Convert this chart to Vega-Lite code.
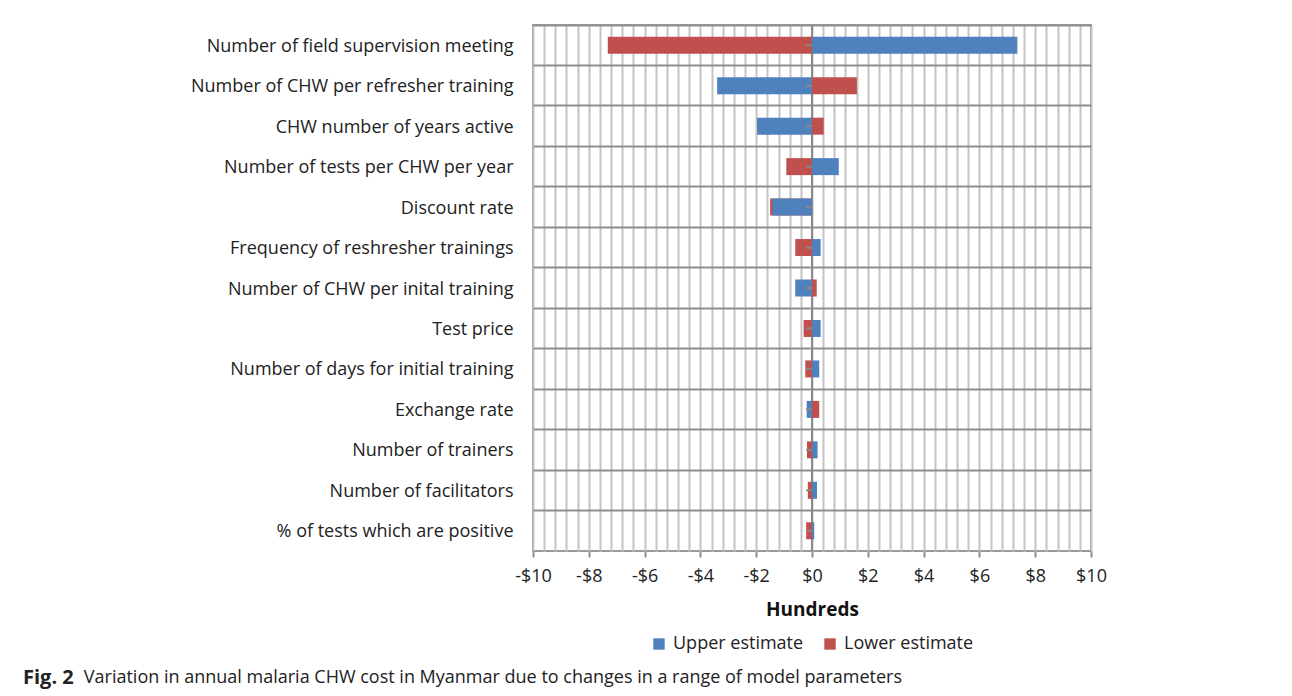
{
  "$schema": "https://vega.github.io/schema/vega-lite/v6.json",
  "autosize": "none",
  "width": 558,
  "height": 526,
  "padding": {"left": 533, "top": 25, "right": 201, "bottom": 145},
  "background": "white",
  "config": {
    "font": "Open Sans",
    "view": {"stroke": "#9a9a9a", "strokeWidth": 2}
  },
  "title": {
    "text": "Fig. 2",
    "subtitle": "\u200b\u00a0\u00a0\u00a0\u00a0\u00a0\u00a0\u00a0\u00a0\u00a0\u00a0\u00a0\u00a0\u00a0Variation in annual malaria CHW cost in Myanmar due to changes in a range of model parameters",
    "orient": "bottom",
    "anchor": "start",
    "frame": "group",
    "dx": -510,
    "offset": 15,
    "font": "Open Sans",
    "fontSize": 20,
    "fontWeight": "bold",
    "color": "#222",
    "subtitleFont": "Open Sans",
    "subtitleFontSize": 18,
    "subtitleColor": "#222",
    "subtitlePadding": -19
  },
  "data": {
    "values": [
      {"param": "Number of field supervision meeting", "series": "Upper estimate", "value": 7.36},
      {"param": "Number of field supervision meeting", "series": "Lower estimate", "value": -7.32},
      {"param": "Number of CHW per refresher training", "series": "Upper estimate", "value": -3.4},
      {"param": "Number of CHW per refresher training", "series": "Lower estimate", "value": 1.61},
      {"param": "CHW number of years active", "series": "Upper estimate", "value": -1.97},
      {"param": "CHW number of years active", "series": "Lower estimate", "value": 0.42},
      {"param": "Number of tests per CHW per year", "series": "Upper estimate", "value": 0.96},
      {"param": "Number of tests per CHW per year", "series": "Lower estimate", "value": -0.92},
      {"param": "Discount rate", "series": "Upper estimate", "value": -1.42},
      {"param": "Discount rate", "series": "Lower estimate", "value": -1.5},
      {"param": "Frequency of reshresher trainings", "series": "Upper estimate", "value": 0.31},
      {"param": "Frequency of reshresher trainings", "series": "Lower estimate", "value": -0.6},
      {"param": "Number of CHW per inital training", "series": "Upper estimate", "value": -0.6},
      {"param": "Number of CHW per inital training", "series": "Lower estimate", "value": 0.17},
      {"param": "Test price", "series": "Upper estimate", "value": 0.31},
      {"param": "Test price", "series": "Lower estimate", "value": -0.3},
      {"param": "Number of days for initial training", "series": "Upper estimate", "value": 0.26},
      {"param": "Number of days for initial training", "series": "Lower estimate", "value": -0.24},
      {"param": "Exchange rate", "series": "Upper estimate", "value": -0.19},
      {"param": "Exchange rate", "series": "Lower estimate", "value": 0.26},
      {"param": "Number of trainers", "series": "Upper estimate", "value": 0.2},
      {"param": "Number of trainers", "series": "Lower estimate", "value": -0.18},
      {"param": "Number of facilitators", "series": "Upper estimate", "value": 0.18},
      {"param": "Number of facilitators", "series": "Lower estimate", "value": -0.15},
      {"param": "% of tests which are positive", "series": "Upper estimate", "value": 0.08},
      {"param": "% of tests which are positive", "series": "Lower estimate", "value": -0.21}
    ]
  },
  "encoding": {
    "y": {
      "field": "param",
      "type": "nominal",
      "sort": [
        "Number of field supervision meeting",
        "Number of CHW per refresher training",
        "CHW number of years active",
        "Number of tests per CHW per year",
        "Discount rate",
        "Frequency of reshresher trainings",
        "Number of CHW per inital training",
        "Test price",
        "Number of days for initial training",
        "Exchange rate",
        "Number of trainers",
        "Number of facilitators",
        "% of tests which are positive"
      ],
      "scale": {"paddingInner": 0, "paddingOuter": 0},
      "axis": {
        "title": null,
        "domain": false,
        "ticks": false,
        "grid": true,
        "bandPosition": 0,
        "gridColor": "#8f8f8f",
        "gridWidth": 2,
        "labelFont": "Open Sans",
        "labelFontSize": 18,
        "labelColor": "#222",
        "labelPadding": 20,
        "labelOffset": 1.5,
        "labelLimit": 500
      }
    }
  },
  "layer": [
    {
      "mark": {"type": "rule", "color": "#8a8a8a", "strokeWidth": 2},
      "encoding": {"x": {"datum": 0}, "y": null}
    },
    {
      "mark": {"type": "bar", "height": {"band": 0.42}},
      "encoding": {
        "x": {
          "field": "value",
          "type": "quantitative",
          "stack": null,
          "scale": {"domain": [-10, 10], "nice": false, "zero": false},
          "axis": {
            "title": "Hundreds",
            "titleFont": "Open Sans",
            "titleFontSize": 19,
            "titleFontWeight": "bold",
            "titleColor": "#111",
            "titlePadding": 15,
            "tickCount": 200,
            "values": [-10, -9.6, -9.2, -8.8, -8.4, -8, -7.6, -7.2, -6.8, -6.4, -6, -5.6, -5.2, -4.8, -4.4, -4, -3.6, -3.2, -2.8, -2.4, -2, -1.6, -1.2, -0.8, -0.4, 0, 0.4, 0.8, 1.2, 1.6, 2, 2.4, 2.8, 3.2, 3.6, 4, 4.4, 4.8, 5.2, 5.6, 6, 6.4, 6.8, 7.2, 7.6, 8, 8.4, 8.8, 9.2, 9.6, 10],
            "labelExpr": "datum.value % 2 === 0 ? (datum.value < 0 ? '-$' + abs(datum.value) : '$' + datum.value) : ''",
            "labelOverlap": false,
            "labelBound": false,
            "labelFlush": false,
            "labelFont": "Open Sans",
            "labelFontSize": 18,
            "labelColor": "#222",
            "labelPadding": 10,
            "domain": false,
            "grid": true,
            "gridColor": "#c4c4c4",
            "gridWidth": 2,
            "tickColor": "#8f8f8f",
            "tickWidth": 2,
            "tickSize": 6,
            "tickOpacity": {"condition": {"test": "datum.value % 2 === 0", "value": 1}, "value": 0}
          }
        },
        "color": {
          "field": "series",
          "type": "nominal",
          "scale": {"domain": ["Upper estimate", "Lower estimate"], "range": ["#4f81bd", "#c0504d"]},
          "legend": {
            "title": null,
            "orient": "none",
            "direction": "horizontal",
            "legendX": 117,
            "legendY": 610,
            "symbolType": "square",
            "symbolSize": 130,
            "symbolStrokeWidth": 0,
            "symbolOpacity": 1,
            "labelFont": "Open Sans",
            "labelFontSize": 18,
            "labelColor": "#222",
            "labelOffset": 5,
            "columnPadding": 17,
            "labelLimit": 300
          }
        },
        "order": {"field": "series", "sort": "ascending"}
      }
    },
    {
      "mark": {"type": "tick", "orient": "horizontal", "color": "#8a8a8a", "size": 6, "thickness": 2, "xOffset": -3},
      "encoding": {"x": {"datum": 0}}
    }
  ]
}
